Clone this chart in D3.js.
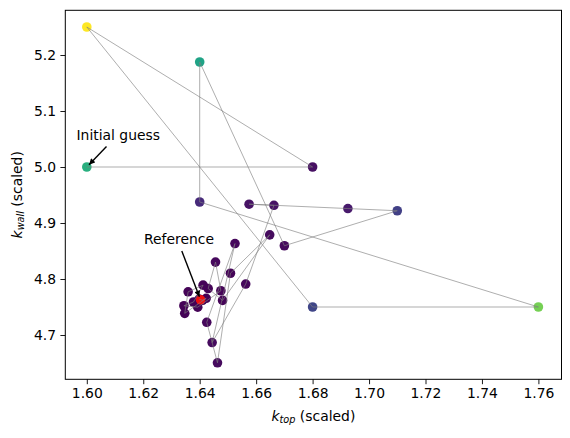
<!DOCTYPE html>
<html><head><meta charset="utf-8">
<script src="https://cdn.jsdelivr.net/npm/d3@7"></script>
<style>
body{margin:0;background:#fff}
svg{display:block}
text{font-family:"DejaVu Sans",sans-serif;fill:#000}
</style>
</head><body><div id="chart"></div>
<script>
// optimisation path (in evaluation order)
const kTop  = [1.600,1.680,1.600,1.680,1.760,1.640,1.640,1.670,1.710,1.6925,1.6575,1.6663,1.6563,1.6444,1.6525,1.6425,1.6463,1.6509,1.6648,1.6481,1.6430,1.6456,1.6475,1.6393,1.6344,1.6378,1.6412,1.6359,1.6347,1.6423,1.6410,1.6398];
const kWall = [5.000,5.000,5.250,4.750,4.750,4.9375,5.1875,4.8594,4.9219,4.9258,4.9336,4.9316,4.7910,4.6865,4.8633,4.7227,4.6504,4.8103,4.8788,4.7618,4.7830,4.8302,4.7790,4.7497,4.7522,4.7589,4.7890,4.7771,4.7387,4.7655,4.7620,4.7640];
const cost  = [0.63,0.04,1.00,0.21,0.79,0.12,0.58,0.03,0.19,0.07,0.05,0.05,0.02,0.03,0.02,0.02,0.03,0.01,0.03,0.01,0.01,0.02,0.01,0.01,0.01,0.005,0.01,0.01,0.01,0.005,0.0,0.0];
const refPoint = {kTop:1.6403, kWall:4.7629};
const xTicks = [1.60,1.62,1.64,1.66,1.68,1.70,1.72,1.74,1.76];
const yTicks = [4.7,4.8,4.9,5.0,5.1,5.2];
const annotations = [
  {text:"Initial guess", idx:0},
  {text:"Reference", idx:-1}
];

(function(){
const W = 570, H = 438;
const pL = 65.3, pR = 561.5, pT = 10.3, pB = 379.3;
const fs = 13.9;

const x = d3.scaleLinear().domain([1.60, 1.76]).range([86.8, 538.4]);
const y = d3.scaleLinear().domain([4.7, 5.2]).range([335, 55]);
const color = d3.scaleSequential(d3.interpolateViridis).domain([d3.min(cost), d3.max(cost)]);

const svg = d3.select("#chart").append("svg").attr("width", W).attr("height", H);

const pts = kTop.map((v,i)=>({kTop:v, kWall:kWall[i], cost:cost[i]}));

svg.append("g").selectAll("circle").data(pts).join("circle")
  .attr("cx", d=>x(d.kTop)).attr("cy", d=>y(d.kWall)).attr("r", 4.8)
  .attr("fill", d=>color(d.cost));

svg.append("circle").attr("cx", x(refPoint.kTop)).attr("cy", y(refPoint.kWall))
  .attr("r", 4.8).attr("fill", "#ee1111");

const line = d3.line().x(d=>x(d.kTop)).y(d=>y(d.kWall));
svg.append("path").datum(pts).attr("d", line)
  .attr("fill","none").attr("stroke","#808080").attr("stroke-opacity",0.85).attr("stroke-width",0.75);

const xAxis = d3.axisBottom(x).tickValues(xTicks).tickFormat(d3.format(".2f")).tickSize(4.9).tickPadding(3.6);
const gx = svg.append("g").attr("transform", `translate(0,${pB})`).call(xAxis);
const yAxis = d3.axisLeft(y).tickValues(yTicks).tickFormat(d3.format(".1f")).tickSize(4.9).tickPadding(4.4);
const gy = svg.append("g").attr("transform", `translate(${pL},0)`).call(yAxis);
[gx,gy].forEach(g=>{
  g.select(".domain").remove();
  g.selectAll("line").attr("stroke","#000").attr("stroke-width",0.9);
  g.selectAll("text").attr("font-size", fs).attr("font-family","DejaVu Sans").attr("fill","#000");
});

svg.append("rect").attr("x", pL).attr("y", pT).attr("width", pR-pL).attr("height", pB-pT)
  .attr("fill","none").attr("stroke","#000").attr("stroke-width",1);

const xl = svg.append("text").attr("x", (pL+pR)/2).attr("y", 420.5).attr("text-anchor","middle").attr("font-size", fs);
xl.append("tspan").attr("font-style","italic").text("k");
xl.append("tspan").attr("font-style","italic").attr("font-size", fs*0.7).attr("dy", 2.8).text("top");
xl.append("tspan").attr("dy", -2.8).text(" (scaled)");

const yl = svg.append("text").attr("transform", `translate(21.5,${(pT+pB)/2}) rotate(-90)`).attr("text-anchor","middle").attr("font-size", fs);
yl.append("tspan").attr("font-style","italic").text("k");
yl.append("tspan").attr("font-style","italic").attr("font-size", fs*0.7).attr("dy", 2.8).text("wall");
yl.append("tspan").attr("dy", -2.8).text(" (scaled)");

svg.append("defs").append("marker").attr("id","ah").attr("viewBox","0 0 10 10")
  .attr("refX",10).attr("refY",5).attr("markerWidth",7).attr("markerHeight",6)
  .attr("markerUnits","userSpaceOnUse").attr("orient","auto")
  .append("path").attr("d","M0,0 L10,5 L0,10 z").attr("fill","#000");

const annPos = [
  {tx:76.5, ty:139.5, ax:106.5, ay:146.5},
  {tx:144, ty:243.5, ax:181.8, ay:251}
];
annotations.forEach((a,i)=>{
  const p = a.idx < 0 ? refPoint : pts[a.idx];
  const px = x(p.kTop), py = y(p.kWall);
  svg.append("text").attr("x", annPos[i].tx).attr("y", annPos[i].ty).attr("font-size", fs).text(a.text);
  const dx = px-annPos[i].ax, dy = py-annPos[i].ay, len = Math.hypot(dx,dy);
  const shrink = 3.2;
  svg.append("line").attr("x1", annPos[i].ax).attr("y1", annPos[i].ay)
    .attr("x2", px - dx/len*shrink).attr("y2", py - dy/len*shrink)
    .attr("stroke","#000").attr("stroke-width",1.4).attr("marker-end","url(#ah)");
});
})();
</script>
</body></html>
